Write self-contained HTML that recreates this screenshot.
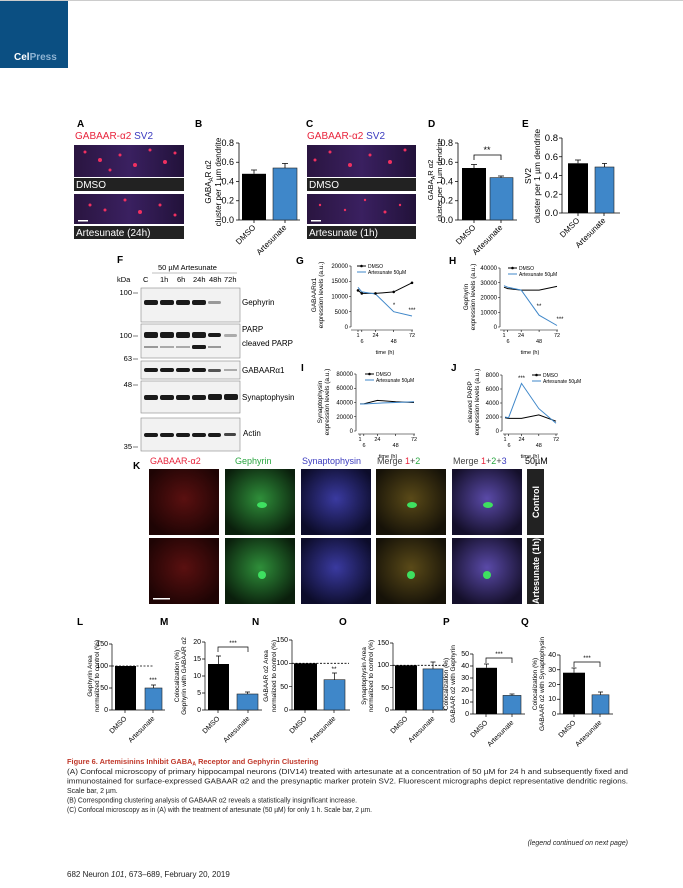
<!DOCTYPE html>
<html><head><meta charset="utf-8"><style>
html,body{margin:0;padding:0;background:#fff;}
svg{display:block;font-family:"Liberation Sans",Arial,sans-serif;}
</style></head><body>
<svg width="683" height="888" viewBox="0 0 683 888" xmlns="http://www.w3.org/2000/svg">
<defs>
<radialGradient id="gg" cx="0.5" cy="0.45" r="0.6"><stop offset="0" stop-color="#2f8f3a"/><stop offset="1" stop-color="#0a1f0c"/></radialGradient>
<radialGradient id="rg" cx="0.5" cy="0.45" r="0.6"><stop offset="0" stop-color="#5a1010"/><stop offset="1" stop-color="#1e0404"/></radialGradient>
<radialGradient id="bg" cx="0.5" cy="0.45" r="0.6"><stop offset="0" stop-color="#3a3aa0"/><stop offset="1" stop-color="#0c0c2a"/></radialGradient>
<radialGradient id="m2" cx="0.5" cy="0.45" r="0.6"><stop offset="0" stop-color="#5a4a18"/><stop offset="1" stop-color="#161208"/></radialGradient>
<radialGradient id="m3" cx="0.5" cy="0.45" r="0.6"><stop offset="0" stop-color="#5a4aa8"/><stop offset="1" stop-color="#140f2a"/></radialGradient>
<linearGradient id="st" x1="0" x2="1"><stop offset="0" stop-color="#2a1540"/><stop offset="0.5" stop-color="#3a2060"/><stop offset="1" stop-color="#22123a"/></linearGradient>
</defs>
<rect x="0" y="0" width="683" height="888" fill="#fff"/>
<rect x="0" y="0" width="683" height="1" fill="#ccc"/>
<rect x="0" y="1" width="68" height="67" fill="#0b4f82"/>
<text x="14" y="60" font-size="10" font-weight="bold" fill="#fff">Cel<tspan fill="#8fb3d3">Press</tspan></text>

<!-- A -->
<text x="77" y="127" font-size="10" font-weight="bold">A</text>
<text x="75" y="139" font-size="10" fill="#e8243c">GABAAR-α2 <tspan fill="#3b3bbf">SV2</tspan></text>
<rect x="74" y="145" width="110" height="32" fill="url(#st)"/>
<g fill="#f03060"><circle cx="85" cy="152" r="1.5"/><circle cx="100" cy="160" r="2"/><circle cx="120" cy="155" r="1.5"/><circle cx="135" cy="165" r="2"/><circle cx="150" cy="150" r="1.5"/><circle cx="165" cy="162" r="2"/><circle cx="175" cy="153" r="1.5"/><circle cx="110" cy="170" r="1.5"/></g>
<rect x="74" y="178" width="110" height="13" fill="#222"/><text x="76" y="188" font-size="10" fill="#fff">DMSO</text>
<rect x="74" y="194" width="110" height="30" fill="url(#st)"/>
<g fill="#f03060"><circle cx="90" cy="205" r="1.5"/><circle cx="105" cy="210" r="1.5"/><circle cx="125" cy="200" r="1.5"/><circle cx="140" cy="212" r="2"/><circle cx="160" cy="205" r="1.5"/><circle cx="175" cy="215" r="1.5"/></g>
<rect x="78" y="220" width="10" height="1.5" fill="#fff"/>
<rect x="74" y="226" width="110" height="13" fill="#222"/><text x="76" y="236" font-size="10" fill="#fff">Artesunate (24h)</text>

<!-- B -->
<text x="195" y="127" font-size="10" font-weight="bold">B</text>
<g font-size="8" text-anchor="middle"><text transform="translate(211,182) rotate(-90)">GABA<tspan font-size="6" dy="2">A</tspan><tspan dy="-2">R α2</tspan></text><text transform="translate(221,182) rotate(-90)">cluster per 1 µm dendrite</text></g>
<g stroke="#000" stroke-width="0.8" fill="none"><path d="M239,143V220H300"/><path d="M236,143H239M236,162.25H239M236,181.5H239M236,200.75H239M236,220H239M254,220V223M285,220V223"/></g>
<g font-size="9" text-anchor="end"><text x="234" y="146">0.8</text><text x="234" y="165">0.6</text><text x="234" y="184.5">0.4</text><text x="234" y="203.5">0.2</text><text x="234" y="223">0.0</text></g>
<rect x="242" y="173.8" width="24" height="46.2" fill="#000"/><rect x="273" y="168" width="24" height="52" fill="#3f87c9" stroke="#222" stroke-width="0.6"/>
<path d="M254,173.8V170M251,170H257M285,168V163.5M282,163.5H288" stroke="#000" stroke-width="0.8"/>
<g font-size="8" text-anchor="end"><text transform="translate(256,228) rotate(-45)">DMSO</text><text transform="translate(287,228) rotate(-45)">Artesunate</text></g>

<!-- C -->
<text x="306" y="127" font-size="10" font-weight="bold">C</text>
<text x="307" y="139" font-size="10" fill="#e8243c">GABAAR-α2 <tspan fill="#3b3bbf">SV2</tspan></text>
<rect x="307" y="145" width="109" height="32" fill="url(#st)"/>
<g fill="#f03060"><circle cx="315" cy="160" r="1.5"/><circle cx="330" cy="152" r="1.5"/><circle cx="350" cy="165" r="2"/><circle cx="370" cy="155" r="1.5"/><circle cx="390" cy="162" r="2"/><circle cx="405" cy="150" r="1.5"/></g>
<rect x="307" y="178" width="109" height="13" fill="#222"/><text x="309" y="188" font-size="10" fill="#fff">DMSO</text>
<rect x="307" y="194" width="109" height="30" fill="url(#st)"/>
<g fill="#f03060"><circle cx="320" cy="205" r="1.2"/><circle cx="345" cy="210" r="1.2"/><circle cx="365" cy="200" r="1.2"/><circle cx="385" cy="212" r="1.5"/><circle cx="400" cy="205" r="1.2"/></g>
<rect x="311" y="220" width="10" height="1.5" fill="#fff"/>
<rect x="307" y="226" width="109" height="13" fill="#222"/><text x="309" y="236" font-size="10" fill="#fff">Artesunate (1h)</text>

<!-- D -->
<text x="428" y="127" font-size="10" font-weight="bold">D</text>
<g font-size="7.5" text-anchor="middle"><text transform="translate(433,180) rotate(-90)">GABA<tspan font-size="5.5" dy="2">A</tspan><tspan dy="-2">R α2</tspan></text><text transform="translate(442,180) rotate(-90)">cluster per 1 µm dendrite</text></g>
<g stroke="#000" stroke-width="0.8" fill="none"><path d="M458,143V220H517"/><path d="M455,143H458M455,162.25H458M455,181.5H458M455,200.75H458M455,220H458M474,220V223M501,220V223"/><path d="M474,160V155H501V160"/></g>
<text x="487" y="153" font-size="9" text-anchor="middle">**</text>
<g font-size="9" text-anchor="end"><text x="453" y="146">0.8</text><text x="453" y="165">0.6</text><text x="453" y="184.5">0.4</text><text x="453" y="203.5">0.2</text><text x="453" y="223">0.0</text></g>
<rect x="462" y="168" width="24" height="52" fill="#000"/><rect x="490" y="177.6" width="23" height="42.4" fill="#3f87c9" stroke="#222" stroke-width="0.6"/>
<path d="M474,168V164.5M471,164.5H477M501,177.6V176M498,176H504" stroke="#000" stroke-width="0.8"/>
<g font-size="8" text-anchor="end"><text transform="translate(476,228) rotate(-45)">DMSO</text><text transform="translate(503,228) rotate(-45)">Artesunate</text></g>

<!-- E -->
<text x="522" y="127" font-size="10" font-weight="bold">E</text>
<g font-size="8.5" text-anchor="middle"><text transform="translate(531,176) rotate(-90)">SV2</text><text transform="translate(540,176) rotate(-90)">cluster per 1 µm dendrite</text></g>
<g stroke="#000" stroke-width="0.8" fill="none"><path d="M562,138V213H620"/><path d="M559,138H562M559,156.75H562M559,175.5H562M559,194.25H562M559,213H562M578,213V216M604,213V216"/></g>
<g font-size="9.5" text-anchor="end"><text x="558" y="141">0.8</text><text x="558" y="160">0.6</text><text x="558" y="179">0.4</text><text x="558" y="197.5">0.2</text><text x="558" y="216">0.0</text></g>
<rect x="568" y="163.3" width="20" height="49.7" fill="#000"/><rect x="595" y="167" width="19" height="46" fill="#3f87c9" stroke="#222" stroke-width="0.6"/>
<path d="M578,163.3V160M575,160H581M604.5,167V163.5M602,163.5H607" stroke="#000" stroke-width="0.8"/>
<g font-size="8" text-anchor="end"><text transform="translate(580,221) rotate(-45)">DMSO</text><text transform="translate(606,221) rotate(-45)">Artesunate</text></g>

<!-- F western -->
<text x="117" y="263" font-size="10" font-weight="bold">F</text>
<text x="158" y="270" font-size="7.5">50 µM Artesunate</text>
<path d="M152,273H237" stroke="#aaa" stroke-width="0.8"/>
<text x="117" y="282" font-size="7.5">kDa</text>
<g font-size="7.5"><text x="143" y="282">C</text><text x="160" y="282">1h</text><text x="177" y="282">6h</text><text x="193" y="282">24h</text><text x="209" y="282">48h</text><text x="224" y="282">72h</text></g>
<g fill="#f2f2f2" stroke="#888" stroke-width="0.6"><rect x="141" y="288" width="99" height="34"/><rect x="141" y="324" width="99" height="34"/><rect x="141" y="361" width="99" height="18"/><rect x="141" y="381" width="99" height="32"/><rect x="141" y="418" width="99" height="33"/></g>
<g fill="#1a1a1a">
<rect x="144" y="300" width="14" height="5" rx="2"/><rect x="160" y="300" width="14" height="5" rx="2"/><rect x="176" y="300" width="14" height="5" rx="2"/><rect x="192" y="300" width="14" height="5" rx="2"/><rect x="208" y="301" width="13" height="3" rx="1.5" fill="#999"/>
<rect x="144" y="332" width="14" height="6" rx="2"/><rect x="160" y="332" width="14" height="6" rx="2"/><rect x="176" y="332" width="14" height="6" rx="2"/><rect x="192" y="332" width="14" height="6" rx="2"/><rect x="208" y="333" width="13" height="4" rx="2"/><rect x="224" y="334" width="13" height="3" rx="1.5" fill="#aaa"/>
<rect x="144" y="346" width="14" height="2" fill="#999"/><rect x="160" y="346" width="14" height="2" fill="#aaa"/><rect x="176" y="346" width="14" height="2" fill="#aaa"/><rect x="192" y="345" width="14" height="4" rx="1.5"/><rect x="208" y="346" width="13" height="2" fill="#999"/>
<rect x="144" y="368" width="14" height="4" rx="2"/><rect x="160" y="368" width="14" height="4" rx="2"/><rect x="176" y="368" width="14" height="4" rx="2"/><rect x="192" y="368" width="14" height="4" rx="2"/><rect x="208" y="369" width="13" height="3" rx="1.5" fill="#555"/><rect x="224" y="369" width="13" height="2" fill="#aaa"/>
<rect x="144" y="395" width="14" height="5" rx="2"/><rect x="160" y="395" width="14" height="5" rx="2"/><rect x="176" y="395" width="14" height="5" rx="2"/><rect x="192" y="395" width="14" height="5" rx="2"/><rect x="208" y="394" width="14" height="6" rx="2"/><rect x="224" y="394" width="14" height="6" rx="2"/>
<rect x="144" y="433" width="14" height="4" rx="2"/><rect x="160" y="433" width="14" height="4" rx="2"/><rect x="176" y="433" width="14" height="4" rx="2"/><rect x="192" y="433" width="14" height="4" rx="2"/><rect x="208" y="433" width="13" height="4" rx="2"/><rect x="224" y="433" width="12" height="3" rx="1.5" fill="#444"/>
</g>
<g font-size="7.5" text-anchor="end"><text x="132" y="295">100</text><text x="132" y="338">100</text><text x="132" y="361">63</text><text x="132" y="387">48</text><text x="132" y="449">35</text></g>
<g stroke="#000" stroke-width="0.6"><path d="M133,293H138M133,336H138M133,359H138M133,385H138M133,447H138"/></g>
<g font-size="8"><text x="242" y="305">Gephyrin</text><text x="242" y="332">PARP</text><text x="242" y="346">cleaved PARP</text><text x="242" y="373">GABAARα1</text><text x="242" y="400">Synaptophysin</text><text x="243" y="436">Actin</text></g>

<!-- G -->
<text x="296" y="264" font-size="10" font-weight="bold">G</text>
<g font-size="6.5" text-anchor="middle"><text transform="translate(316,295) rotate(-90)">GABAARα1</text><text transform="translate(323,295) rotate(-90)">expression levels (a.u.)</text></g>
<g stroke="#000" stroke-width="0.6" fill="none"><path d="M351,266V327M349,266H351M349,281.25H351M349,296.5H351M349,311.75H351M349,327H351M351,330H413M358,330V332M361.8,330V332M375.5,330V332M393.7,330V332M412,330V332"/></g>
<g font-size="6" text-anchor="end"><text x="348" y="268">20000</text><text x="348" y="283">15000</text><text x="348" y="298.5">10000</text><text x="348" y="314">5000</text><text x="348" y="329">0</text></g>
<g font-size="5.5" text-anchor="middle"><text x="358" y="337">1</text><text x="362" y="343">6</text><text x="375.5" y="337">24</text><text x="393.7" y="343">48</text><text x="412" y="337">72</text><text x="385" y="354">time (h)</text></g>
<polyline points="358,290.4 361.8,293.4 375.5,293.4 393.7,291.9 412,282.8" fill="none" stroke="#000" stroke-width="1"/>
<polyline points="358,287.3 361.8,291.9 375.5,294 393.7,311.7 412,316" fill="none" stroke="#3f87c9" stroke-width="1"/>
<g fill="#000"><circle cx="358" cy="290.4" r="1.3"/><circle cx="361.8" cy="293.4" r="1.3"/><circle cx="375.5" cy="293.4" r="1.3"/><circle cx="393.7" cy="291.9" r="1.3"/><circle cx="412" cy="282.8" r="1.3"/></g>
<g font-size="6" text-anchor="middle"><text x="394" y="307">*</text><text x="412" y="312">***</text></g>
<path d="M357,266H366" stroke="#000"/><circle cx="361.5" cy="266" r="1.3"/><path d="M357,272H366" stroke="#3f87c9"/>
<g font-size="5"><text x="368" y="268">DMSO</text><text x="368" y="274">Artesunate 50µM</text></g>

<!-- H -->
<text x="449" y="264" font-size="10" font-weight="bold">H</text>
<g font-size="6.5" text-anchor="middle"><text transform="translate(468,297) rotate(-90)">Gephyrin</text><text transform="translate(475,297) rotate(-90)">expression levels (a.u.)</text></g>
<g stroke="#000" stroke-width="0.6" fill="none"><path d="M500,268V327M498,268H500M498,282.75H500M498,297.5H500M498,312.25H500M498,327H500M500,330H558M504,330V332M507.7,330V332M521.2,330V332M539.1,330V332M557,330V332"/></g>
<g font-size="6" text-anchor="end"><text x="497" y="270">40000</text><text x="497" y="285">30000</text><text x="497" y="299.5">20000</text><text x="497" y="314.5">10000</text><text x="497" y="329">0</text></g>
<g font-size="5.5" text-anchor="middle"><text x="504" y="337">1</text><text x="508" y="343">6</text><text x="521" y="337">24</text><text x="539" y="343">48</text><text x="557" y="337">72</text><text x="530" y="354">time (h)</text></g>
<polyline points="504,287.2 507.7,288.6 521.2,290.1 539.1,290.1 557,286.4" fill="none" stroke="#000" stroke-width="1"/>
<polyline points="504,285.7 507.7,287.2 521.2,290.1 539.1,315.2 557,325.5" fill="none" stroke="#3f87c9" stroke-width="1"/>
<g font-size="6" text-anchor="middle"><text x="539" y="308">**</text><text x="560" y="321">***</text></g>
<path d="M508,268H517" stroke="#000"/><circle cx="512.5" cy="268" r="1.3"/><path d="M508,274H517" stroke="#3f87c9"/>
<g font-size="5"><text x="519" y="270">DMSO</text><text x="519" y="276">Artesunate 50µM</text></g>

<!-- I -->
<text x="301" y="371" font-size="10" font-weight="bold">I</text>
<g font-size="6.5" text-anchor="middle"><text transform="translate(322,402) rotate(-90)">Synaptophysin</text><text transform="translate(329,402) rotate(-90)">expression levels (a.u.)</text></g>
<g stroke="#000" stroke-width="0.6" fill="none"><path d="M356,374V431M354,374H356M354,388.25H356M354,402.5H356M354,416.75H356M354,431H356M358,434H415M360,434V436M363.8,434V436M377.4,434V436M395.6,434V436M414,434V436"/></g>
<g font-size="6" text-anchor="end"><text x="353" y="376">80000</text><text x="353" y="390">60000</text><text x="353" y="404.5">40000</text><text x="353" y="419">20000</text><text x="353" y="433">0</text></g>
<g font-size="5.5" text-anchor="middle"><text x="360" y="441">1</text><text x="364" y="447">6</text><text x="377.4" y="441">24</text><text x="395.6" y="447">48</text><text x="414" y="441">72</text><text x="388" y="458">time (h)</text></g>
<polyline points="360,403.9 363.8,403.9 377.4,400.4 395.6,401.8 414,402.5" fill="none" stroke="#000" stroke-width="1"/>
<polyline points="360,404 363.8,404 377.4,403.2 395.6,402.5 414,401.8" fill="none" stroke="#3f87c9" stroke-width="1"/>
<path d="M365,374H374" stroke="#000"/><circle cx="369.5" cy="374" r="1.3"/><path d="M365,380H374" stroke="#3f87c9"/>
<g font-size="5"><text x="376" y="376">DMSO</text><text x="376" y="382">Artesunate 50µM</text></g>

<!-- J -->
<text x="451" y="371" font-size="10" font-weight="bold">J</text>
<g font-size="6.5" text-anchor="middle"><text transform="translate(472,402) rotate(-90)">cleaved PARP</text><text transform="translate(479,402) rotate(-90)">expression levels (a.u.)</text></g>
<g stroke="#000" stroke-width="0.6" fill="none"><path d="M502,375V431M500,375H502M500,389H502M500,403H502M500,417H502M500,431H502M503,434H558M505,434V436M508.6,434V436M521.5,434V436M538.8,434V436M556,434V436"/></g>
<g font-size="6" text-anchor="end"><text x="499" y="377">8000</text><text x="499" y="391">6000</text><text x="499" y="405">4000</text><text x="499" y="419">2000</text><text x="499" y="433">0</text></g>
<g font-size="5.5" text-anchor="middle"><text x="505" y="441">1</text><text x="509" y="447">6</text><text x="521.5" y="441">24</text><text x="538.8" y="447">48</text><text x="556" y="441">72</text><text x="530" y="458">time (h)</text></g>
<polyline points="505,417.7 508.6,418.4 521.5,418.4 538.8,414.9 556,421.2" fill="none" stroke="#000" stroke-width="1"/>
<polyline points="505,417 508.6,417.7 521.5,383.4 538.8,408.6 556,423.3" fill="none" stroke="#3f87c9" stroke-width="1"/>
<text x="521.5" y="380" font-size="6" text-anchor="middle">***</text>
<path d="M532,375H541" stroke="#000"/><circle cx="536.5" cy="375" r="1.3"/><path d="M532,381H541" stroke="#3f87c9"/>
<g font-size="5"><text x="543" y="377">DMSO</text><text x="543" y="383">Artesunate 50µM</text></g>

<!-- K -->
<text x="133" y="469" font-size="10" font-weight="bold">K</text>
<g font-size="9"><text x="150" y="464" fill="#e8243c">GABAAR-α2</text><text x="235" y="464" fill="#2aa640">Gephyrin</text><text x="302" y="464" fill="#3b3bbf">Synaptophysin</text><text x="377" y="464" fill="#444">Merge <tspan fill="#e8243c">1</tspan>+<tspan fill="#2aa640">2</tspan></text><text x="453" y="464" fill="#444">Merge <tspan fill="#e8243c">1</tspan>+<tspan fill="#2aa640">2</tspan>+<tspan fill="#3b3bbf">3</tspan></text><text x="525" y="464">50µM</text></g>
<g>
<rect x="149" y="469" width="70" height="66" fill="url(#rg)"/><rect x="225" y="469" width="70" height="66" fill="url(#gg)"/><rect x="301" y="469" width="70" height="66" fill="url(#bg)"/><rect x="376" y="469" width="70" height="66" fill="url(#m2)"/><rect x="452" y="469" width="70" height="66" fill="url(#m3)"/>
<rect x="149" y="538" width="70" height="66" fill="url(#rg)"/><rect x="225" y="538" width="70" height="66" fill="url(#gg)"/><rect x="301" y="538" width="70" height="66" fill="url(#bg)"/><rect x="376" y="538" width="70" height="66" fill="url(#m2)"/><rect x="452" y="538" width="70" height="66" fill="url(#m3)"/>
</g>
<g fill="#3ee060"><ellipse cx="262" cy="505" rx="5" ry="3"/><ellipse cx="412" cy="505" rx="5" ry="3"/><ellipse cx="488" cy="505" rx="5" ry="3"/><ellipse cx="262" cy="575" rx="4" ry="4"/><ellipse cx="411" cy="575" rx="4" ry="4"/><ellipse cx="487" cy="575" rx="4" ry="4"/></g>
<rect x="153" y="598" width="17" height="1.5" fill="#fff"/>
<rect x="527" y="469" width="17" height="66" fill="#222"/><rect x="527" y="538" width="17" height="66" fill="#222"/>
<g font-size="9" font-weight="bold" fill="#fff" text-anchor="middle"><text transform="translate(539,502) rotate(-90)">Control</text><text transform="translate(539,571) rotate(-90)">Artesunate (1h)</text></g>

<!-- Bottom bar charts -->
<g font-size="6.5" text-anchor="middle">
<text x="77" y="625" font-size="10" font-weight="bold" text-anchor="start">L</text>
<text transform="translate(92,676) rotate(-90)">Gephyrin Area</text><text transform="translate(99,676) rotate(-90)">normalized to control (%)</text>
<text x="160" y="625" font-size="10" font-weight="bold" text-anchor="start">M</text>
<text transform="translate(179,676) rotate(-90)">Colocalization (%)</text><text transform="translate(186,676) rotate(-90)">Gephyrin with GABAAR α2</text>
<text x="252" y="625" font-size="10" font-weight="bold" text-anchor="start">N</text>
<text transform="translate(268,676) rotate(-90)">GABAAR α2 Area</text><text transform="translate(276,676) rotate(-90)">normalized to control (%)</text>
<text x="339" y="625" font-size="10" font-weight="bold" text-anchor="start">O</text>
<text transform="translate(366,676) rotate(-90)">Synaptophysin Area</text><text transform="translate(373,676) rotate(-90)">normalized to control (%)</text>
<text x="443" y="625" font-size="10" font-weight="bold" text-anchor="start">P</text>
<text transform="translate(448,684) rotate(-90)">Colocalization (%)</text><text transform="translate(455,684) rotate(-90)">GABAAR α2 with Gephyrin</text>
<text x="521" y="625" font-size="10" font-weight="bold" text-anchor="start">Q</text>
<text transform="translate(537,684) rotate(-90)">Colocalization (%)</text><text transform="translate(544,684) rotate(-90)">GABAAR α2 with Synaptophysin</text>
</g>
<g stroke="#000" stroke-width="0.7" fill="none">
<path d="M112,644V710H165M109,644H112M109,666H112M109,688H112M109,710H112M125,710V713M153,710V713"/>
<path d="M205,642V710H262M202,642H205M202,659H205M202,676H205M202,693H205M202,710H205M218,710V713M248,710V713M218,652V647H248V652"/>
<path d="M292,640V710H350M289,640H292M289,663.3H292M289,686.7H292M289,710H292M305,710V713M334,710V713"/>
<path d="M393,643V710H447M390,643H393M390,665.3H393M390,687.7H393M390,710H393M406,710V713M433,710V713"/>
<path d="M473,654V714H525M470,654H473M470,666H473M470,678H473M470,690H473M470,702H473M470,714H473M486,714V717M512,714V717M486,663V658H512V663"/>
<path d="M560,655V714H613M557,655H560M557,669.75H560M557,684.5H560M557,699.25H560M557,714H560M574,714V717M600,714V717M574,667V662H600V667"/>
</g>
<g stroke="#000" stroke-width="0.8" stroke-dasharray="2,1.5"><path d="M112,666H153"/><path d="M292,663.3H349"/><path d="M393,665.3H447"/></g>
<g font-size="7" text-anchor="end">
<text x="108" y="646">150</text><text x="108" y="668">100</text><text x="108" y="690">50</text><text x="108" y="712">0</text>
<text x="201" y="644">20</text><text x="201" y="661">15</text><text x="201" y="678">10</text><text x="201" y="695">5</text><text x="201" y="712">0</text>
<text x="288" y="642">150</text><text x="288" y="665">100</text><text x="288" y="689">50</text><text x="288" y="712">0</text>
<text x="389" y="645">150</text><text x="389" y="667">100</text><text x="389" y="690">50</text><text x="389" y="712">0</text>
<text x="469" y="656">50</text><text x="469" y="668">40</text><text x="469" y="680">30</text><text x="469" y="692">20</text><text x="469" y="704">10</text><text x="469" y="716">0</text>
<text x="556" y="657">40</text><text x="556" y="672">30</text><text x="556" y="687">20</text><text x="556" y="701">10</text><text x="556" y="716">0</text>
</g>
<g fill="#000"><rect x="115" y="666" width="21" height="44"/><rect x="208" y="664" width="21" height="46"/><rect x="294" y="663.3" width="23" height="46.7"/><rect x="395" y="665.3" width="22" height="44.7"/><rect x="476" y="667.8" width="21" height="46.2"/><rect x="563" y="672.7" width="22" height="41.3"/></g>
<g fill="#3f87c9" stroke="#222" stroke-width="0.6"><rect x="145" y="688" width="17" height="22"/><rect x="237" y="694" width="21" height="16"/><rect x="324" y="679.7" width="21" height="30.3"/><rect x="423" y="668.9" width="20" height="41.1"/><rect x="503" y="695.4" width="18" height="18.6"/><rect x="592" y="694.8" width="17" height="19.2"/></g>
<g stroke="#000" stroke-width="0.7"><path d="M153.5,688V685M151,685H156M218.5,664V656M216,656H221M247.5,694V692M245,692H250M334.5,679.7V673M332,673H337M433,668.9V662M430.5,662H435.5M486.5,667.8V664M484,664H489M512,695.4V694M509.5,694H514.5M574,672.7V668M571.5,668H576.5M600.5,694.8V692M598,692H603"/></g>
<g font-size="6.5" text-anchor="middle"><text x="153" y="682">***</text><text x="233" y="645">***</text><text x="334" y="671">**</text><text x="499" y="656">***</text><text x="587" y="660">***</text></g>
<g font-size="7" text-anchor="end">
<text transform="translate(127,719) rotate(-45)">DMSO</text><text transform="translate(155,719) rotate(-45)">Artesunate</text>
<text transform="translate(220,719) rotate(-45)">DMSO</text><text transform="translate(250,719) rotate(-45)">Artesunate</text>
<text transform="translate(307,719) rotate(-45)">DMSO</text><text transform="translate(336,719) rotate(-45)">Artesunate</text>
<text transform="translate(408,719) rotate(-45)">DMSO</text><text transform="translate(435,719) rotate(-45)">Artesunate</text>
<text transform="translate(488,723) rotate(-45)">DMSO</text><text transform="translate(514,723) rotate(-45)">Artesunate</text>
<text transform="translate(576,723) rotate(-45)">DMSO</text><text transform="translate(602,723) rotate(-45)">Artesunate</text>
</g>

<!-- Caption -->
<text x="67" y="764" font-size="7.4" font-weight="bold" fill="#c0392b">Figure 6.  Artemisinins Inhibit GABA<tspan font-size="5" dy="1.5">A</tspan><tspan dy="-1.5"> Receptor and Gephyrin Clustering</tspan></text>
<g font-size="7" fill="#222">
<text x="67" y="774" textLength="561" lengthAdjust="spacingAndGlyphs">(A) Confocal microscopy of primary hippocampal neurons (DIV14) treated with artesunate at a concentration of 50 µM for 24 h and subsequently fixed and</text>
<text x="67" y="783.5" textLength="561" lengthAdjust="spacingAndGlyphs">immunostained for surface-expressed GABAAR α2 and the presynaptic marker protein SV2. Fluorescent micrographs depict representative dendritic regions.</text>
<text x="67" y="793">Scale bar, 2 µm.</text>
<text x="67" y="802.5" textLength="290" lengthAdjust="spacingAndGlyphs">(B) Corresponding clustering analysis of GABAAR α2 reveals a statistically insignificant increase.</text>
<text x="67" y="812" textLength="305" lengthAdjust="spacingAndGlyphs">(C) Confocal microscopy as in (A) with the treatment of artesunate (50 µM) for only 1 h. Scale bar, 2 µm.</text>
<text x="628" y="845" text-anchor="end" font-style="italic">(legend continued on next page)</text>
</g>
<text x="67" y="877" font-size="8" fill="#222">682  Neuron <tspan font-style="italic">101</tspan>, 673–689, February 20, 2019</text>
</svg>
</body></html>
